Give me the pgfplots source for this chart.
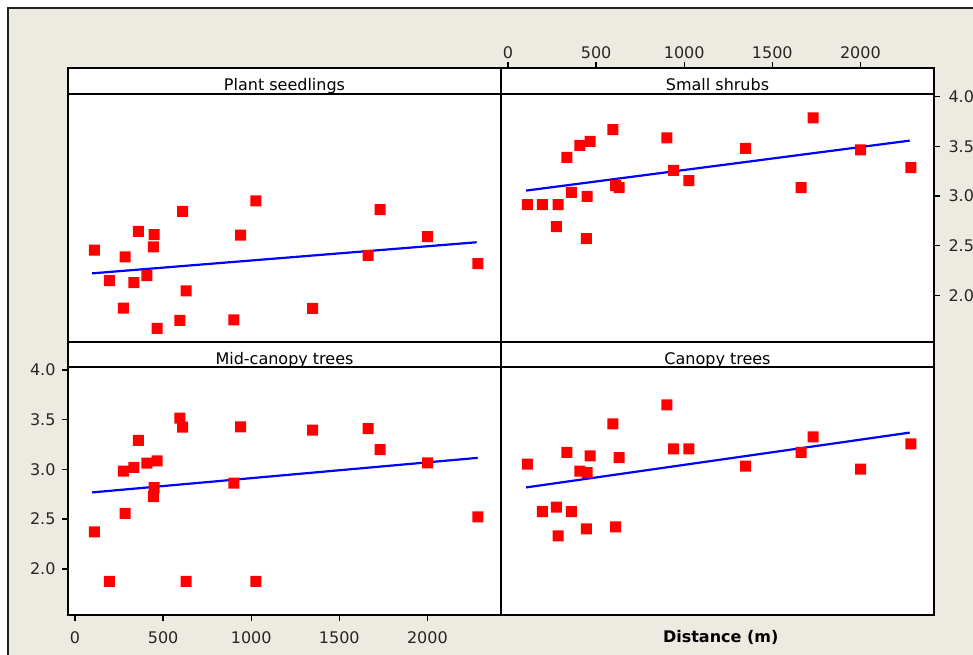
\documentclass[border=0pt]{standalone}
\usepackage{fontspec}
\setmainfont{DejaVu Sans}
\usepackage{pgfplots}
\usepackage{pgfplotstable}
\pgfplotsset{compat=1.18}

\definecolor{bgbeige}{RGB}{237,234,225}
\definecolor{framegray}{RGB}{35,35,35}

% rounded square marker, as in the original software
\pgfdeclareplotmark{rsq}{%
  \pgfsetcornersarced{\pgfpoint{2pt}{2pt}}%
  \pgfpathmoveto{\pgfpoint{0pt}{-\pgfplotmarksize}}%
  \pgfpathlineto{\pgfpoint{\pgfplotmarksize}{-\pgfplotmarksize}}%
  \pgfpathlineto{\pgfpoint{\pgfplotmarksize}{\pgfplotmarksize}}%
  \pgfpathlineto{\pgfpoint{-\pgfplotmarksize}{\pgfplotmarksize}}%
  \pgfpathlineto{\pgfpoint{-\pgfplotmarksize}{-\pgfplotmarksize}}%
  \pgfpathclose
  \pgfusepathqfill}

% distance (m) and the four response values at each site
\pgfplotstableread{
dist seed  shrub mid   canopy
110  2.456 2.913 2.371 3.054
195  2.148 2.913 1.873 2.575
275  1.872 2.691 2.983 2.622
284  2.386 2.913 2.559 2.331
334  2.128 3.389 3.020 3.171
360  2.644 3.037 3.294 2.575
408  2.198 3.510 3.064 2.983
444  2.487 2.570 2.726 2.401
449  2.611 2.997 2.816 2.967
466  1.668 3.550 3.087 3.137
595  1.748 3.668 3.518 3.458
610  2.846 3.104 3.425 2.421
631  2.044 3.084 1.873 3.120
902  1.752 3.584 2.863 3.649
940  2.607 3.258 3.428 3.207
1027 2.950 3.154 1.873 3.207
1348 1.869 3.480 3.395 3.033
1664 2.403 3.084 3.411 3.171
1732 2.862 3.785 3.201 3.328
2001 2.591 3.463 3.067 3.003
2286 2.319 3.285 2.522 3.258
}\sites

\newcommand\fs{\fontsize{16}{19}\selectfont}
\newcommand\strip[1]{%
  \draw[black, line width=2pt] (axis cs:-40,4.03) -- (axis cs:2418,4.03);
  \node[anchor=base, font=\fs, inner sep=0pt] at (axis cs:1189,4.058) {#1};}

\pgfplotsset{
  panel/.style={
    width=433pt, height=273.5pt, scale only axis,
    xmin=-40, xmax=2418, ymin=1.535, ymax=4.288,
    xtick={0,500,1000,1500,2000}, xticklabels={0,500,1000,1500,2000},
    ytick={2,2.5,3,3.5,4}, yticklabels={2.0,2.5,3.0,3.5,4.0},
    axis line style={line width=2pt, black},
    tick style={line width=1.4pt, black},
    major tick length=6pt, tick align=outside,
    axis background/.style={fill=white},
    ticklabel style={font=\fs, text=black!85},
    clip=false,
  },
  noticks/.style={xtick=\empty, ytick=\empty},
  pts/.style={only marks, mark=rsq, mark size=5.5pt, red},
  fit/.style={blue, line width=2.2pt, no marks},
}

\begin{document}
\begin{tikzpicture}
\useasboundingbox (0,0) rectangle (973pt,-654pt);
\clip (0,0) rectangle (973pt,-654pt);
\fill[white] (0,0) rectangle (973pt,-654pt);
\filldraw[fill=bgbeige, draw=framegray, line width=2.4pt] (8pt,-8pt) rectangle (1000pt,-700pt);

% Plant seedlings
\begin{axis}[panel, noticks, at={(68pt,-341.5pt)}, anchor=south west]
\addplot[fit] coordinates {(97,2.221) (2280,2.534)};
\addplot[pts] table[x=dist, y=seed] {\sites};
\strip{Plant seedlings}
\end{axis}

% Small shrubs
\begin{axis}[panel, at={(501pt,-341.5pt)}, anchor=south west,
  xtick pos=top, xticklabel pos=top, ytick pos=right, yticklabel pos=right,
  yticklabel style={xshift=5pt}]
\addplot[fit] coordinates {(102,3.054) (2280,3.557)};
\addplot[pts] table[x=dist, y=shrub] {\sites};
\strip{Small shrubs}
\end{axis}

% Mid-canopy trees
\begin{axis}[panel, at={(68pt,-615pt)}, anchor=south west,
  xtick pos=bottom, xticklabel pos=bottom, ytick pos=left, yticklabel pos=left,
  yticklabel style={xshift=-3pt}, xticklabel style={yshift=-7pt}]
\addplot[fit] coordinates {(97,2.769) (2286,3.117)};
\addplot[pts] table[x=dist, y=mid] {\sites};
\strip{Mid-canopy trees}
\end{axis}

% Canopy trees
\begin{axis}[panel, noticks, at={(501pt,-615pt)}, anchor=south west]
\addplot[fit] coordinates {(102,2.819) (2280,3.371)};
\addplot[pts] table[x=dist, y=canopy] {\sites};
\strip{Canopy trees}
\end{axis}

\node[anchor=base, font=\fs\bfseries] at (720.7pt,-642.5pt) {Distance (m)};
\end{tikzpicture}
\end{document}
